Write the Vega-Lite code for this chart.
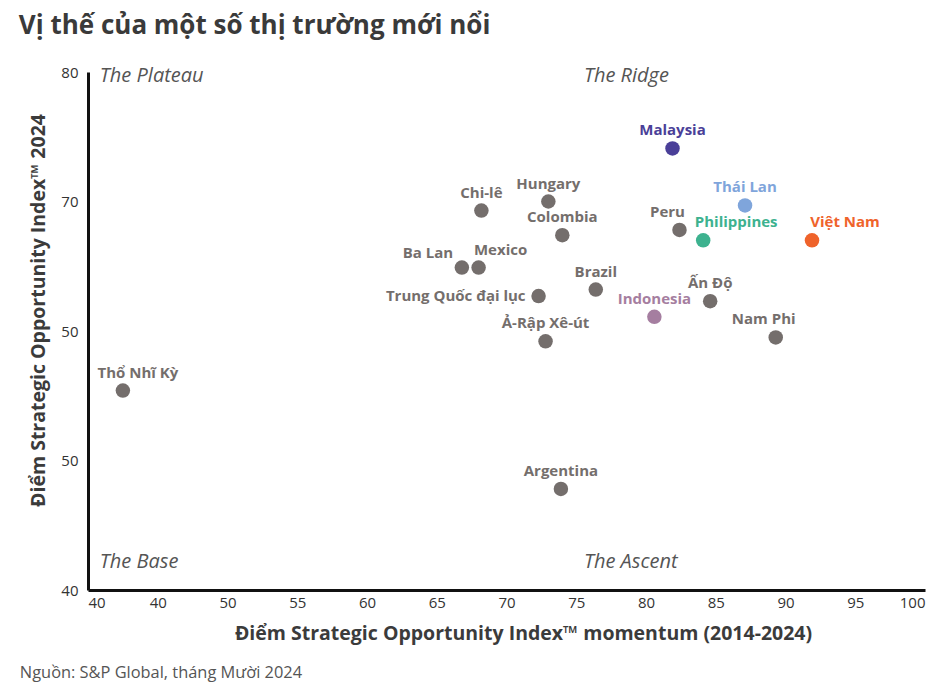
{
  "$schema": "https://vega.github.io/schema/vega-lite/v6.json",
  "background": "white",
  "padding": {"left": 18, "top": 13, "right": 12, "bottom": 10},
  "title": {"text": "Vị thế của một số thị trường mới nổi", "anchor": "start", "font": "Open Sans", "fontSize": 26, "fontWeight": "bold", "color": "#3a3a3a", "offset": 26, "dx": -1},
  "config": {
    "view": {"stroke": null},
    "font": "Open Sans",
    "axis": {"domain": true, "domainColor": "#111", "domainWidth": 3, "ticks": false, "grid": false, "labelFont": "Open Sans", "labelFontSize": 15, "labelColor": "#333", "titleFont": "Open Sans", "titleFontSize": 19.5, "titleFontWeight": "bold", "titleColor": "#3b3b3b"}
  },
  "datasets": {
    "pts": [
      {"name": "Thổ Nhĩ Kỳ", "x": 42.5, "y": 55.4, "nhom": "Khác"},
      {"name": "Chi-lê", "x": 68.2, "y": 69.3, "nhom": "Khác"},
      {"name": "Hungary", "x": 73.0, "y": 70.0, "nhom": "Khác"},
      {"name": "Colombia", "x": 74.0, "y": 67.4, "nhom": "Khác"},
      {"name": "Ba Lan", "x": 66.8, "y": 64.9, "nhom": "Khác"},
      {"name": "Mexico", "x": 68.0, "y": 64.9, "nhom": "Khác"},
      {"name": "Trung Quốc đại lục", "x": 72.3, "y": 62.7, "nhom": "Khác"},
      {"name": "Ả-Rập Xê-út", "x": 72.8, "y": 59.2, "nhom": "Khác"},
      {"name": "Argentina", "x": 73.9, "y": 47.8, "nhom": "Khác"},
      {"name": "Brazil", "x": 76.4, "y": 63.2, "nhom": "Khác"},
      {"name": "Indonesia", "x": 80.6, "y": 61.1, "nhom": "Indonesia"},
      {"name": "Peru", "x": 82.4, "y": 67.8, "nhom": "Khác"},
      {"name": "Philippines", "x": 84.1, "y": 67.0, "nhom": "Philippines"},
      {"name": "Malaysia", "x": 81.9, "y": 74.1, "nhom": "Malaysia"},
      {"name": "Thái Lan", "x": 87.1, "y": 69.7, "nhom": "Thái Lan"},
      {"name": "Việt Nam", "x": 91.9, "y": 67.0, "nhom": "Việt Nam"},
      {"name": "Ấn Độ", "x": 84.6, "y": 62.3, "nhom": "Khác"},
      {"name": "Nam Phi", "x": 89.3, "y": 59.5, "nhom": "Khác"}
    ],
    "quads": [
      {"label": "The Plateau", "x": 40.85, "y": 79.7},
      {"label": "The Ridge", "x": 75.55, "y": 79.7},
      {"label": "The Base", "x": 40.85, "y": 42.2},
      {"label": "The Ascent", "x": 75.55, "y": 42.2}
    ]
  },
  "vconcat": [
    {
      "width": 837,
      "height": 518,
      "title": {"text": "Nguồn: S&P Global, tháng Mười 2024", "orient": "bottom", "anchor": "start", "font": "Open Sans", "fontSize": 16.4, "fontWeight": "normal", "color": "#555", "offset": 22, "dx": -9},
      "layer": [
        {
          "mark": {"type": "rule", "color": "#b8b8b8", "strokeWidth": 1},
          "encoding": {"x": {"datum": 73.8, "type": "quantitative"}}
        },
        {
          "mark": {"type": "rule", "color": "#b8b8b8", "strokeWidth": 1},
          "encoding": {"y": {"datum": 67.6, "type": "quantitative"}}
        },
        {
          "data": {"name": "quads"},
          "mark": {"type": "text", "align": "left", "baseline": "middle", "font": "Open Sans", "fontSize": 20, "fontStyle": "italic", "color": "#555"},
          "encoding": {
            "x": {"field": "x", "type": "quantitative"},
            "y": {"field": "y", "type": "quantitative"},
            "text": {"field": "label"}
          }
        },
        {
          "data": {"name": "pts"},
          "mark": {"type": "circle", "size": 210, "opacity": 1},
          "encoding": {
            "x": {"field": "x", "type": "quantitative", "scale": {"domain": [40, 100], "nice": false, "zero": false},
              "axis": {"values": [40, 45, 50, 55, 60, 65, 70, 75, 80, 85, 90, 95, 100], "labelExpr": "datum.value == 45 ? '40' : datum.label", "labelPadding": 5, "title": "Điểm Strategic Opportunity Index™ momentum (2014-2024)", "titlePadding": 14, "titleX": 435}},
            "y": {"field": "y", "type": "quantitative", "scale": {"domain": [40, 80], "nice": false, "zero": false},
              "axis": {"values": [40, 50, 60, 70, 80], "labelExpr": "datum.value == 60 ? '50' : datum.label", "labelPadding": 10, "title": "Điểm Strategic Opportunity Index™ 2024", "titlePadding": 12, "titleY": 238}},
            "color": {"field": "nhom", "type": "nominal", "legend": null,
              "scale": {"domain": ["Khác", "Malaysia", "Thái Lan", "Philippines", "Việt Nam", "Indonesia"], "range": ["#746e6c", "#4a3f98", "#7fa5db", "#3db28f", "#ef632b", "#a57ea0"]}}
          }
        },
        {
          "data": {"name": "pts"},
          "transform": [{"filter": {"field": "name", "oneOf": ["Chi-lê", "Hungary", "Colombia", "Ả-Rập Xê-út", "Argentina", "Brazil", "Indonesia", "Malaysia", "Thái Lan", "Ấn Độ"]}}],
          "mark": {"type": "text", "align": "center", "baseline": "middle", "dy": -18, "font": "Open Sans", "fontSize": 15, "fontWeight": "bold"},
          "encoding": {
            "x": {"field": "x", "type": "quantitative"},
            "y": {"field": "y", "type": "quantitative"},
            "text": {"field": "name"},
            "color": {"field": "nhom", "type": "nominal", "legend": null}
          }
        },
        {
          "data": {"name": "pts"},
          "transform": [{"filter": {"field": "name", "oneOf": ["Peru", "Nam Phi"]}}],
          "mark": {"type": "text", "align": "center", "baseline": "middle", "dy": -18, "dx": -12, "font": "Open Sans", "fontSize": 15, "fontWeight": "bold"},
          "encoding": {
            "x": {"field": "x", "type": "quantitative"},
            "y": {"field": "y", "type": "quantitative"},
            "text": {"field": "name"},
            "color": {"field": "nhom", "type": "nominal", "legend": null}
          }
        },
        {
          "data": {"name": "pts"},
          "transform": [{"filter": {"field": "name", "oneOf": ["Philippines", "Việt Nam"]}}],
          "mark": {"type": "text", "align": "center", "baseline": "middle", "dy": -18, "dx": 33, "font": "Open Sans", "fontSize": 15, "fontWeight": "bold"},
          "encoding": {
            "x": {"field": "x", "type": "quantitative"},
            "y": {"field": "y", "type": "quantitative"},
            "text": {"field": "name"},
            "color": {"field": "nhom", "type": "nominal", "legend": null}
          }
        },
        {
          "data": {"name": "pts"},
          "transform": [{"filter": {"field": "name", "oneOf": ["Mexico"]}}],
          "mark": {"type": "text", "align": "center", "baseline": "middle", "dy": -18, "dx": 22, "font": "Open Sans", "fontSize": 15, "fontWeight": "bold"},
          "encoding": {
            "x": {"field": "x", "type": "quantitative"},
            "y": {"field": "y", "type": "quantitative"},
            "text": {"field": "name"},
            "color": {"field": "nhom", "type": "nominal", "legend": null}
          }
        },
        {
          "data": {"name": "pts"},
          "transform": [{"filter": {"field": "name", "oneOf": ["Thổ Nhĩ Kỳ"]}}],
          "mark": {"type": "text", "align": "center", "baseline": "middle", "dy": -18, "dx": 15, "font": "Open Sans", "fontSize": 15, "fontWeight": "bold"},
          "encoding": {
            "x": {"field": "x", "type": "quantitative"},
            "y": {"field": "y", "type": "quantitative"},
            "text": {"field": "name"},
            "color": {"field": "nhom", "type": "nominal", "legend": null}
          }
        },
        {
          "data": {"name": "pts"},
          "transform": [{"filter": {"field": "name", "oneOf": ["Ba Lan"]}}],
          "mark": {"type": "text", "align": "center", "baseline": "middle", "dy": -15, "dx": -34, "font": "Open Sans", "fontSize": 15, "fontWeight": "bold"},
          "encoding": {
            "x": {"field": "x", "type": "quantitative"},
            "y": {"field": "y", "type": "quantitative"},
            "text": {"field": "name"},
            "color": {"field": "nhom", "type": "nominal", "legend": null}
          }
        },
        {
          "data": {"name": "pts"},
          "transform": [{"filter": {"field": "name", "oneOf": ["Trung Quốc đại lục"]}}],
          "mark": {"type": "text", "align": "right", "baseline": "middle", "dy": 0, "dx": -13, "font": "Open Sans", "fontSize": 15, "fontWeight": "bold"},
          "encoding": {
            "x": {"field": "x", "type": "quantitative"},
            "y": {"field": "y", "type": "quantitative"},
            "text": {"field": "name"},
            "color": {"field": "nhom", "type": "nominal", "legend": null}
          }
        }
      ]
    }
  ]
}
